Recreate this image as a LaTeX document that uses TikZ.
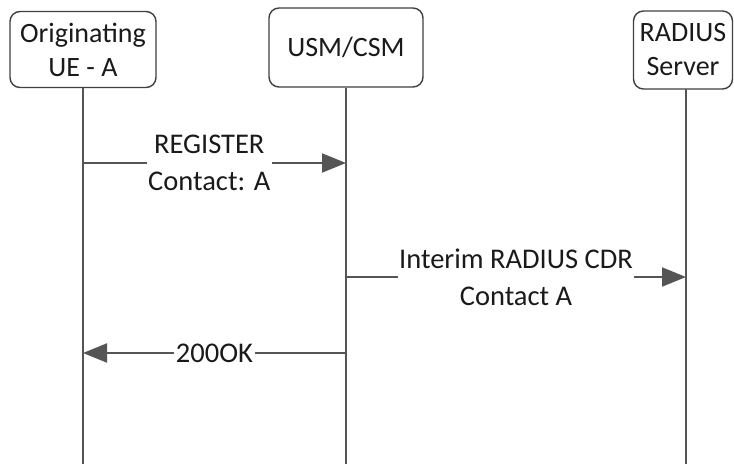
\documentclass[tikz,border=0pt]{standalone}
\usepackage{fontspec}
\setmainfont{Carlito}
\usetikzlibrary{arrows.meta}
\definecolor{boxline}{HTML}{404040}
\definecolor{lifeline}{HTML}{555555}
\definecolor{txt}{HTML}{1A1A1A}
\begin{document}
\begin{tikzpicture}[x=1pt,y=-1pt,
  actor/.style={draw=boxline, line width=1.4pt, rounded corners=10pt, fill=white,
    align=center, text=txt, inner sep=0pt, font=\fontsize{28}{34}\selectfont},
  life/.style={draw=lifeline, line width=2pt},
  msg/.style={draw=lifeline, line width=2pt, -{Triangle[length=24pt,width=19pt]}},
  lbl/.style={fill=white, text=txt, align=center, inner sep=1.5pt, font=\fontsize{28.5}{37}\selectfont}]
\useasboundingbox (0,0) rectangle (734,464);
\node[actor, minimum width=146pt, minimum height=76pt] (ue) at (83,49.5) {Originating\\UE - A};
\node[actor, minimum width=154pt, minimum height=79pt] (usm) at (346,47.5) {USM/CSM};
\node[actor, minimum width=99pt, minimum height=78pt] (rad) at (683,50) {RADIUS\\Server};
\coordinate (ueend) at (83,464);
\coordinate (usmend) at (346,464);
\coordinate (radend) at (686,464);
\draw[life] (ue.south) -- (ueend);
\draw[life] (usm.south) -- (usmend);
\draw[life] (686,89) -- (radend);
\coordinate (m1s) at (83,163);
\coordinate (m1e) at (346,163);
\coordinate (m2s) at (346,277);
\coordinate (m2e) at (686,277);
\coordinate (m3s) at (346,353);
\coordinate (m3e) at (83,353);
\draw[msg] (m1s) -- node[lbl, pos=0.48] (l1) {REGISTER\\Contact: A} (m1e);
\draw[msg] (m2s) -- node[lbl, pos=0.5] (l2) {Interim RADIUS CDR\\Contact A} (m2e);
\draw[msg] (m3s) -- node[lbl, pos=0.5] (l3) {200OK} (m3e);
\end{tikzpicture}
\end{document}
